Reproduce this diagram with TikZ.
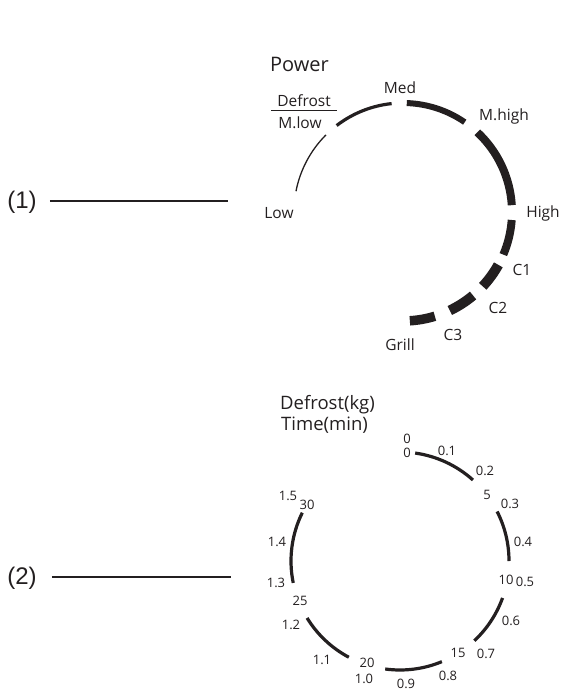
\documentclass[tikz,border=0pt]{standalone}
\usepackage{fontspec}
\setmainfont{Open Sans}
\newfontfamily\tagfont{Liberation Sans}
\usepackage{tikz}
\usetikzlibrary{calc}
\definecolor{ink}{RGB}{35,31,32}
\tikzset{
 lbl/.style={inner sep=0pt, text=ink, font=\fontsize{15.5}{18}\selectfont},
 num/.style={inner sep=0pt, text=ink, font=\fontsize{13}{15}\selectfont},
 head/.style={inner sep=0pt, anchor=west, text=ink, font=\fontsize{20}{24}\selectfont},
 tag/.style={inner sep=0pt, text=ink, font=\tagfont\fontsize{24}{28}\selectfont},
}

\begin{document}
\begin{tikzpicture}[x=1pt,y=-1pt]
\useasboundingbox (0,0) rectangle (560,691);
\node[tag] (tag1) at (22,202) {(1)};
\node[tag] (tag2) at (22,578) {(2)};
\coordinate (tip1) at (228,201);
\coordinate (tip2) at (231,577);
\draw[ink, line width=1.2] ($(tag1.east)+(13,-1)$) -- (tip1);
\draw[ink, line width=1.2] ($(tag2.east)+(15,-1)$) -- (tip2);

\coordinate (pc) at (403,212);
\foreach \a/\b/\w in {-169/-135/1.3, -127.5/-96/3.2, -88/-55.5/6, -47/-3.6/8, 4.2/23/8, 29/43/10, 50/64.6/10, 73/86.4/9.5} {
 \draw[ink, line width=\w] (pc) ++(\a:109) arc[start angle=\a, end angle=\b, radius=109];
}
\node[head] (pow) at (270,64) {Power};
\node[lbl] (pMed) at (400,88) {Med};
\node[lbl] (pDef) at (304,101) {Defrost};
\node[lbl] (pMlow) at (300,123) {M.low};
\draw[ink, line width=0.9] ([shift={(-6,3)}]pDef.south west) -- ([shift={(6,3)}]pDef.south east);
\node[lbl] (pMhigh) at (504,116) {M.high};
\node[lbl] (pLow) at (279,213) {Low};
\node[lbl] (pHigh) at (543,213) {High};
\node[lbl] (pC1) at (522,270) {C1};
\node[lbl] (pC2) at (498,308) {C2};
\node[lbl] (pC3) at (453,335) {C3};
\node[lbl] (pGrill) at (400,345) {Grill};

\coordinate (dc) at (400,561);
\foreach \a/\b in {-82/-48, -27/0, 19.8/47, 67.4/97.8, 118/148.5, 168.4/206.3} {
 \draw[ink, line width=3.2] (dc) ++(\a:109) arc[start angle=\a, end angle=\b, radius=109];
}
\node[head, font=\fontsize{18.5}{22}\selectfont] (dkg) at (280,405) {Defrost(kg)};
\node[head, font=\fontsize{18.5}{22}\selectfont] (tmin) at (281,425) {Time(min)};
\foreach \x/\y/\t [count=\i] in {407/439/0, 407/453/0, 447/451/0.1, 485/471/0.2, 487/495/5, 510/504/0.3, 523/542/0.4, 506/580/10, 525/582/0.5, 511/621/0.6, 486/654/0.7, 458/653/15, 448/676/0.8, 406/684/0.9, 367/663/20, 364/679/1.0, 322/660/1.1, 291/625/1.2, 300/601/25, 276/583/1.3, 277/542/1.4, 288/496/1.5, 307/505/30} {
 \node[num] (d\i) at (\x,\y) {\t};
}
\end{tikzpicture}
\end{document}
